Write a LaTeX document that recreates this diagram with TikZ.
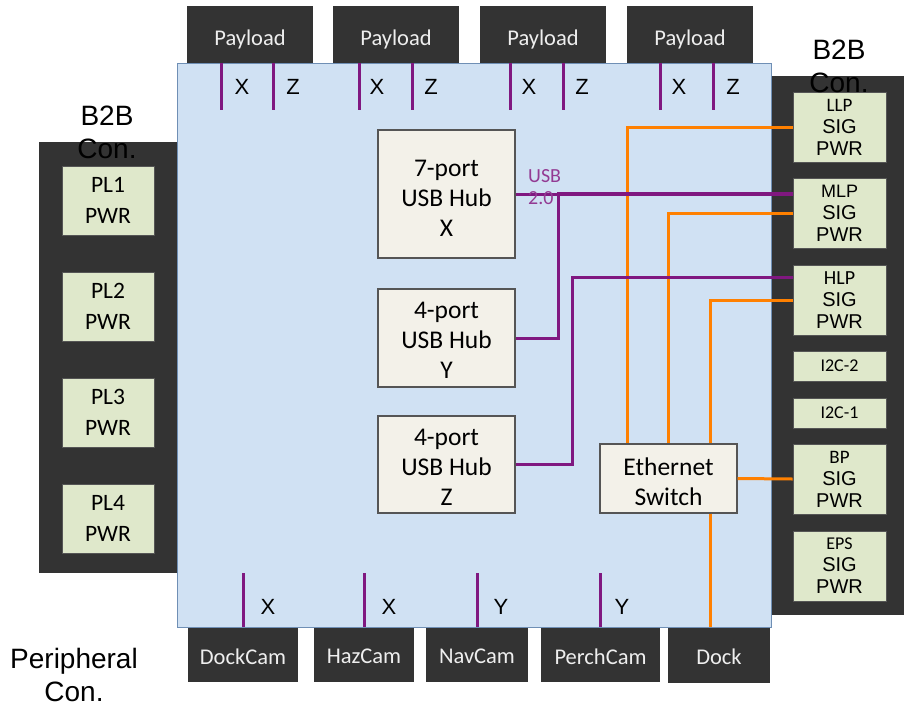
\documentclass[tikz,border=0pt]{standalone}
\usepackage{fontspec}
\setmainfont{Carlito}
\newfontfamily\arial{Liberation Sans}
\usetikzlibrary{calc}
\definecolor{darkbg}{HTML}{333333}
\definecolor{bluebg}{HTML}{D0E1F3}
\definecolor{blueline}{HTML}{6F8FB5}
\definecolor{grfill}{HTML}{DFE8CB}
\definecolor{grline}{HTML}{555555}
\definecolor{hubfill}{HTML}{F3F1E9}
\definecolor{hubline}{HTML}{555555}
\definecolor{cpurp}{HTML}{801880}
\definecolor{corng}{HTML}{FF8000}
\definecolor{lighttext}{HTML}{EEEEEE}
\begin{document}
\begin{tikzpicture}[x=1pt,y=-1pt,
  dkbox/.style={fill=darkbg, draw=none, inner sep=0pt},
  dktext/.style={text=lighttext, inner sep=0pt, font=\fontsize{22.5}{25}\selectfont},
  grbox/.style={fill=grfill, draw=grline, line width=0.8pt, align=center, inner sep=0pt},
  plbox/.style={grbox, minimum width=92, minimum height=69, font=\fontsize{23.5}{31}\selectfont},
  rbox/.style={grbox, minimum width=93, minimum height=70, font=\arial\fontsize{20}{22}\selectfont},
  smallbox/.style={grbox, minimum width=93, minimum height=30, font=\fontsize{18}{20}\selectfont},
  hubbox/.style={fill=hubfill, draw=hubline, line width=1.2pt, inner sep=0pt},
  hubtext/.style={align=center, inner sep=0pt, font=\fontsize{25.5}{30}\selectfont},
  usbline/.style={draw=cpurp, line width=3pt},
  ethline/.style={draw=corng, line width=3pt},
  xzlab/.style={font=\arial\fontsize{22}{24}\selectfont, inner sep=0pt},
  biglab/.style={font=\arial\fontsize{28}{32.5}\selectfont, align=center, inner sep=0pt}
]
\useasboundingbox (0,0) rectangle (904,707);

% side panels
\fill[darkbg] (39,142) rectangle (185,573);
\fill[darkbg] (760,76) rectangle (904,615);

% payload boxes
\foreach \i/\cx in {1/250,2/396,3/543,4/690}{
  \node[dkbox, minimum width=126, minimum height=64] (pay\i) at (\cx,38) {};
  \node[dktext] (payt\i) at ([yshift=-1]pay\i.center) {Payload};
}
% bottom boxes
\node[dkbox, minimum width=110, minimum height=55] (dockcam) at (243,654.5) {};
\node[dkbox, minimum width=100, minimum height=55] (hazcam) at (364,654.5) {};
\node[dkbox, minimum width=102, minimum height=55] (navcam) at (477,654.5) {};
\node[dkbox, minimum width=119, minimum height=55] (perchcam) at (600.5,654.5) {};
\node[dkbox, minimum width=102, minimum height=56] (dock) at (719,655) {};
\node[dktext] (dockcamt) at ([yshift=-2]dockcam.center) {DockCam};
\node[dktext] (hazcamt) at ([yshift=-2]hazcam.center) {HazCam};
\node[dktext] (navcamt) at ([yshift=-2]navcam.center) {NavCam};
\node[dktext] (perchcamt) at ([yshift=-2]perchcam.center) {PerchCam};
\node[dktext] (dockt) at ([yshift=-2]dock.center) {Dock};

% main board
\filldraw[fill=bluebg, draw=blueline, line width=1pt] (177,63) rectangle (771,627);

% top ticks
\foreach \i/\cx/\ta/\tb/\lx/\lz in {1/250/221/273/242/293, 2/396/359/412/377/431, 3/543/510/563/529/582, 4/690/660/713/679/733}{
  \draw[usbline] ([xshift={\ta-\cx},yshift=7]pay\i.south) -- ++(0,47);
  \draw[usbline] ([xshift={\tb-\cx},yshift=7]pay\i.south) -- ++(0,47);
  \node[xzlab] (tx\i) at (\lx,87) {X};
  \node[xzlab] (tz\i) at (\lz,87) {Z};
}

% bottom ticks
\draw[usbline] (dockcam.north) -- ++(0,-54);
\draw[usbline] (hazcam.north) -- ++(0,-54);
\draw[usbline] (navcam.north) -- ++(0,-54);
\draw[usbline] (perchcam.north) -- ++(0,-54);
\node[xzlab] (bx1) at (268,607) {X};
\node[xzlab] (bx2) at (389,607) {X};
\node[xzlab] (by1) at (501,607) {Y};
\node[xzlab] (by2) at (622,607) {Y};

% left connectors
\node[plbox] (pl1) at (108,200.5) {PL1\\PWR};
\node[plbox] (pl2) at (108,306.5) {PL2\\PWR};
\node[plbox] (pl3) at (108,412.5) {PL3\\PWR};
\node[plbox] (pl4) at (108,518.5) {PL4\\PWR};

% right connectors
\node[rbox] (llp) at (839.5,127) {{\rmfamily\fontsize{19}{22}\selectfont LLP}\\SIG\\PWR};
\node[rbox] (mlp) at (839.5,213) {{\fontsize{18}{22}\selectfont MLP}\\SIG\\PWR};
\node[rbox] (hlp) at (839.5,300) {{\rmfamily\fontsize{20}{22}\selectfont HLP}\\SIG\\PWR};
\node[smallbox] (i2c2) at (839.5,366) {I2C-2};
\node[smallbox] (i2c1) at (839.5,413) {I2C-1};
\node[rbox] (bp) at (839.5,479) {{\rmfamily\fontsize{19}{22}\selectfont BP}\\SIG\\PWR};
\node[rbox] (eps) at (839.5,566) {{\rmfamily\fontsize{18}{22}\selectfont EPS}\\SIG\\PWR};

% hubs and switch
\node[hubbox, minimum width=137, minimum height=128] (hubx) at (446.5,194) {};
\node[hubbox, minimum width=137, minimum height=98] (huby) at (446.5,338) {};
\node[hubbox, minimum width=137, minimum height=97] (hubz) at (446.5,464.5) {};
\node[hubbox, minimum width=137, minimum height=69] (sw) at (668.5,478.5) {};
\node[hubtext] (hubxt) at ([yshift=-4]hubx.center) {7-port\\USB Hub\\X};
\node[hubtext] (hubyt) at ([yshift=-2.5]huby.center) {4-port\\USB Hub\\Y};
\node[hubtext] (hubzt) at ([yshift=-2.5]hubz.center) {4-port\\USB Hub\\Z};
\node[hubtext] (swt) at ([yshift=-3]sw.center) {Ethernet\\Switch};

% ethernet lines
\draw[ethline] (llp.west) -| ([xshift=-41.5]sw.north);
\draw[ethline] (mlp.west) -| (sw.north);
\draw[ethline] (hlp.west) -| ([xshift=41.5]sw.north);
\draw[ethline] (sw.east) -- (bp.west);
\draw[ethline] ([xshift=41.5]sw.south) -- ([xshift=41.5]sw.south |- dock.north);

% usb lines
\draw[usbline] (hubx.east) -- (hubx.east -| mlp.west);
\draw[usbline] (huby.east) -- ++(43,0) |- ([yshift=20]mlp.west);
\draw[usbline] (hubz.east) -- ++(57,0) |- ([yshift=23]hlp.west);
\node[anchor=north west, align=left, text=cpurp!85!white, inner sep=0pt, font=\fontsize{20}{22}\selectfont] (usblab) at (528,169) {USB\\2.0};

% labels
\node[biglab, anchor=north] (b2bl) at (107,106) {B2B\\Con.};
\node[biglab, anchor=north] (b2br) at (839,40) {B2B\\Con.};
\node[biglab, anchor=north] (perl) at (74,648) {Peripheral\\Con.};
\end{tikzpicture}
\end{document}
